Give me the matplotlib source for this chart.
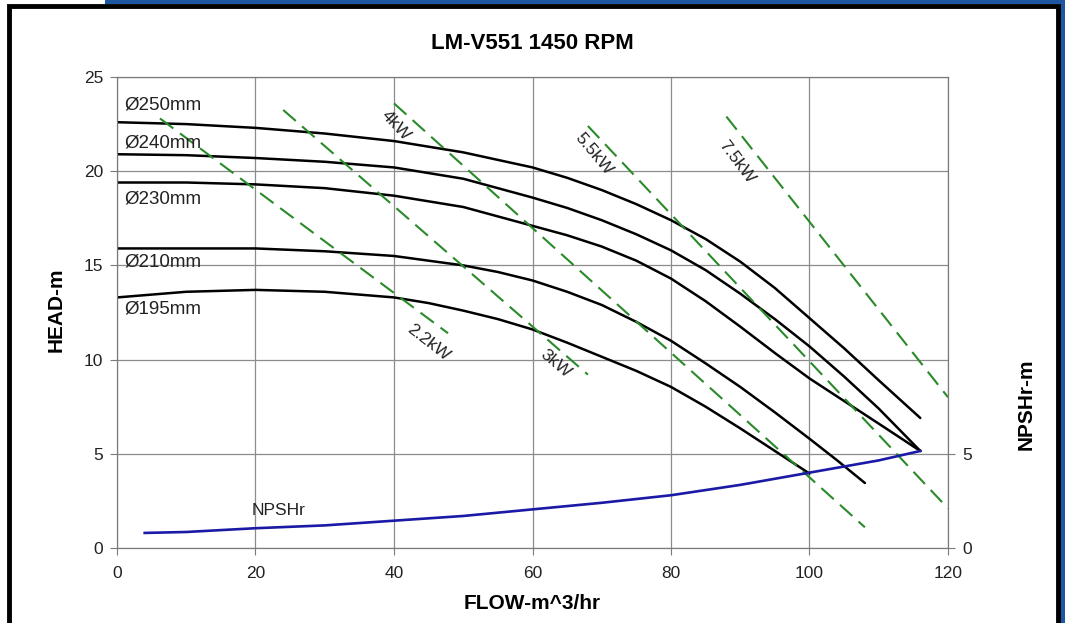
import numpy as np
import matplotlib.pyplot as plt
from matplotlib.patches import Rectangle

plt.rcParams['font.family'] = ['Liberation Sans', 'DejaVu Sans']

# head curves (flow m^3/hr, head m) per impeller diameter
q_250 = [0, 10, 20, 30, 40, 50, 60, 65, 70, 75, 80, 85, 90, 95, 100, 105, 110, 116]
h_250 = [22.6, 22.5, 22.3, 22.0, 21.6, 21.0, 20.2, 19.65, 19.0, 18.25, 17.4, 16.4, 15.2, 13.8, 12.2, 10.6, 8.9, 6.9]
q_240 = [0, 10, 20, 30, 40, 50, 60, 65, 70, 75, 80, 85, 90, 95, 100, 105, 110, 116]
h_240 = [20.9, 20.85, 20.7, 20.5, 20.2, 19.6, 18.6, 18.05, 17.4, 16.65, 15.8, 14.75, 13.5, 12.15, 10.7, 9.1, 7.4, 5.15]
q_230 = [0, 10, 20, 30, 40, 50, 60, 65, 70, 75, 80, 85, 90, 95, 100, 105, 110, 116]
h_230 = [19.4, 19.4, 19.3, 19.1, 18.7, 18.1, 17.1, 16.6, 16.0, 15.25, 14.3, 13.1, 11.75, 10.35, 9.0, 7.8, 6.6, 5.15]
q_210 = [0, 10, 20, 30, 40, 50, 55, 60, 65, 70, 75, 80, 85, 90, 95, 100, 104, 108]
h_210 = [15.9, 15.9, 15.9, 15.75, 15.5, 15.0, 14.65, 14.2, 13.6, 12.9, 12.0, 11.0, 9.8, 8.55, 7.2, 5.8, 4.65, 3.45]
q_195 = [0, 10, 20, 30, 40, 45, 50, 55, 60, 65, 70, 75, 80, 85, 90, 95, 100]
h_195 = [13.3, 13.6, 13.7, 13.6, 13.3, 13.0, 12.6, 12.15, 11.6, 10.9, 10.15, 9.4, 8.55, 7.5, 6.35, 5.15, 3.95]

diam_labels = ['Ø250mm', 'Ø240mm', 'Ø230mm', 'Ø210mm', 'Ø195mm']
diam_label_y = [23.5, 21.5, 18.5, 15.2, 12.7]

# NPSHr curve
q_npsh = [4, 10, 20, 30, 40, 50, 60, 70, 80, 90, 100, 110, 116]
npsh = [0.8, 0.85, 1.05, 1.2, 1.45, 1.7, 2.05, 2.4, 2.8, 3.35, 4.0, 4.65, 5.15]

# power lines (start / end points)
kw_labels = ['2.2kW', '3kW', '4kW', '5.5kW', '7.5kW']
kw_q = [[6.2, 47.8], [24.0, 68.0], [40.0, 108.0], [68.0, 120.0], [88.0, 120.0]]
kw_h = [[22.8, 11.4], [23.25, 9.2], [23.6, 1.1], [22.4, 2.1], [22.9, 8.0]]
kw_text_pos = [(45.0, 10.9), (63.3, 9.8), (40.3, 22.4), (68.9, 20.9), (89.4, 20.5)]
kw_text_rot = [-38, -40, -47, -50, -53]

fig = plt.figure(figsize=(10.65, 6.23), dpi=100)
fig.patch.set_facecolor('white')

# page frame
fig.add_artist(Rectangle((105/1065, 1-4/623), 960/1065, 4/623, transform=fig.transFigure,
                         color='#1f56a3', lw=0))
fig.add_artist(Rectangle((1060/1065, 0), 5/1065, 1, transform=fig.transFigure,
                         color='#1f56a3', lw=0))
fig.add_artist(Rectangle((9/1065, -0.05), 1049/1065, 1.05-5.5/623, transform=fig.transFigure,
                         fill=False, ec='black', lw=3.5))

ax = fig.add_axes([117/1065, 75/623, 831/1065, 471/623])
ax.set_xlim(0, 120)
ax.set_ylim(0, 25)
ax.set_xticks(range(0, 121, 20))
ax.set_yticks(range(0, 26, 5))
ax.grid(True, color='#8c8c8c', lw=0.9)
ax.set_axisbelow(True)
for s in ax.spines.values():
    s.set_color('#7a7a7a')
ax.tick_params(colors='#7a7a7a', labelcolor='#222222', labelsize=12.5, length=5, pad=5)
ax.tick_params(axis='x', pad=8)

for q, h in [(q_250, h_250), (q_240, h_240), (q_230, h_230), (q_210, h_210), (q_195, h_195)]:
    ax.plot(q, h, color='black', lw=1.8, solid_capstyle='round', solid_joinstyle='round')

for lab, y in zip(diam_labels, diam_label_y):
    ax.text(1.0, y, lab, fontsize=13.5, color='#222222', va='center', ha='left')

for i in range(len(kw_labels)):
    ax.plot(kw_q[i], kw_h[i], color='#2a8a2a', lw=1.5, dashes=(8, 4))
    ax.text(kw_text_pos[i][0], kw_text_pos[i][1], kw_labels[i], fontsize=12.5, color='#222222',
            rotation=kw_text_rot[i], ha='center', va='center', rotation_mode='anchor')

ax.set_title('LM-V551 1450 RPM', fontsize=16, fontweight='bold', pad=20)
ax.set_xlabel('FLOW-m^3/hr', fontsize=15, fontweight='bold', labelpad=9)
ax.set_ylabel('HEAD-m', fontsize=15, fontweight='bold')
ax.yaxis.set_label_coords(-0.062, 0.505)

ax2 = ax.twinx()
ax2.set_ylim(0, 25)
ax2.set_yticks([0, 5])
ax2.plot(q_npsh, npsh, color='#1a1aa6', lw=1.9, solid_joinstyle='round')
ax2.text(23.4, 2.0, 'NPSHr', fontsize=12.5, color='#222222', ha='center', va='center')
for s in ax2.spines.values():
    s.set_color('#7a7a7a')
ax2.tick_params(colors='#7a7a7a', labelcolor='#222222', labelsize=12.5, length=5, pad=5)
ax2.set_ylabel('NPSHr-m', fontsize=15, fontweight='bold')
ax2.yaxis.set_label_coords(1.083, 0.306)

fig.savefig('out.png', dpi=100)
